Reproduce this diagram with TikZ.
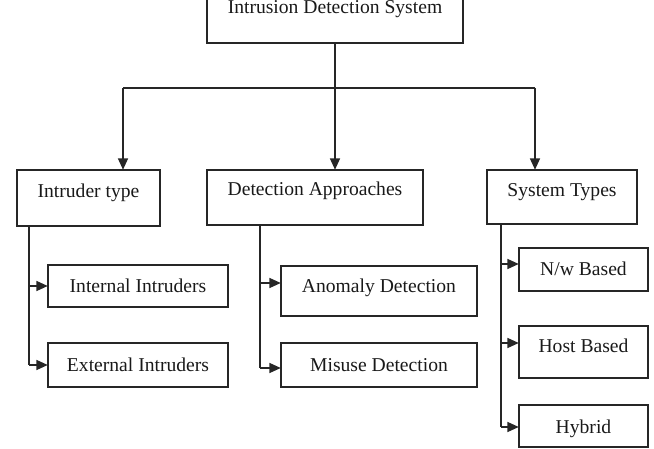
\documentclass[tikz,border=0pt]{standalone}
\usepackage{fontspec}
\setmainfont{Liberation Serif}
\usetikzlibrary{arrows.meta}
\tikzset{
  boxstyle/.style={draw=black!85, line width=1.1pt},
  lbl/.style={anchor=base, inner sep=0pt, font=\fontsize{14.7pt}{17pt}\selectfont, text=black!90},
  conn/.style={draw=black!85, line width=1.1pt},
  arr/.style={conn, -{Triangle[length=8.5pt,width=7.5pt]}}
}
\newcommand{\mybox}[5]{%
  \path[boxstyle] (#2,#3) rectangle (#4,#5);
  \node[inner sep=0pt, minimum width={(#4-#2)*0.75pt}, minimum height={(#5-#3)*0.75pt}] (#1) at ({(#2+#4)/2},{(#3+#5)/2}) {};}
\begin{document}
\begin{tikzpicture}[x=0.75pt,y=-0.75pt]
\useasboundingbox (0,0) rectangle (654,449);
\clip (0,0) rectangle (654,449);
% boxes
\mybox{ids}{207}{-15}{463}{43}
\mybox{it}{17}{170}{160}{226}
\mybox{da}{207}{170}{423}{225}
\mybox{st}{487}{170}{637}{224}
\mybox{ii}{48}{265}{228}{307}
\mybox{ei}{48}{343}{228}{387}
\mybox{ad}{281}{266}{477}{316}
\mybox{md}{281}{343}{477}{387}
\mybox{nw}{519}{248}{648}{291}
\mybox{hb}{519}{326}{648}{378}
\mybox{hy}{519}{405}{648}{447}
% labels
\node[lbl] (tids) at (335,14) {Intrusion Detection System};
\node[lbl] (tit) at (88.5,198) {Intruder type};
\node[lbl] (tda) at (315,196) {Detection Approaches};
\node[lbl] (tst) at (562,197) {System Types};
\node[lbl] (tii) at (138,292) {Internal Intruders};
\node[lbl] (tei) at (138,372) {External Intruders};
\node[lbl] (tad) at (379,292) {Anomaly Detection};
\node[lbl] (tmd) at (379,372) {Misuse Detection};
\node[lbl] (tnw) at (583.5,276) {N/w Based};
\node[lbl] (thb) at (583.5,353) {Host Based};
\node[lbl] (thy) at (583.5,433) {Hybrid};
% top connectors
\coordinate (jl) at (123,88);
\coordinate (jm) at (335,88);
\coordinate (jr) at (535,88);
\draw[conn] (ids.south) -- (jm);
\draw[conn] (jl) -- (jr);
\draw[arr] (jl) -- (jl |- it.north);
\draw[arr] (jm) -- (jm |- da.north);
\draw[arr] (jr) -- (jr |- st.north);
% intruder type branches
\coordinate (a1) at (29,286);
\coordinate (a2) at (29,365);
\draw[conn] (a1 |- it.south) -- (a2);
\draw[arr] (a1) -- (a1 -| ii.west);
\draw[arr] (a2) -- (a2 -| ei.west);
% detection approaches branches
\coordinate (b1) at (260,283);
\coordinate (b2) at (260,368);
\draw[conn] (b1 |- da.south) -- (b2);
\draw[arr] (b1) -- (b1 -| ad.west);
\draw[arr] (b2) -- (b2 -| md.west);
% system types branches
\coordinate (c1) at (501,264);
\coordinate (c2) at (501,343);
\coordinate (c3) at (501,427);
\draw[conn] (c1 |- st.south) -- (c3);
\draw[arr] (c1) -- (c1 -| nw.west);
\draw[arr] (c2) -- (c2 -| hb.west);
\draw[arr] (c3) -- (c3 -| hy.west);
\end{tikzpicture}
\end{document}
